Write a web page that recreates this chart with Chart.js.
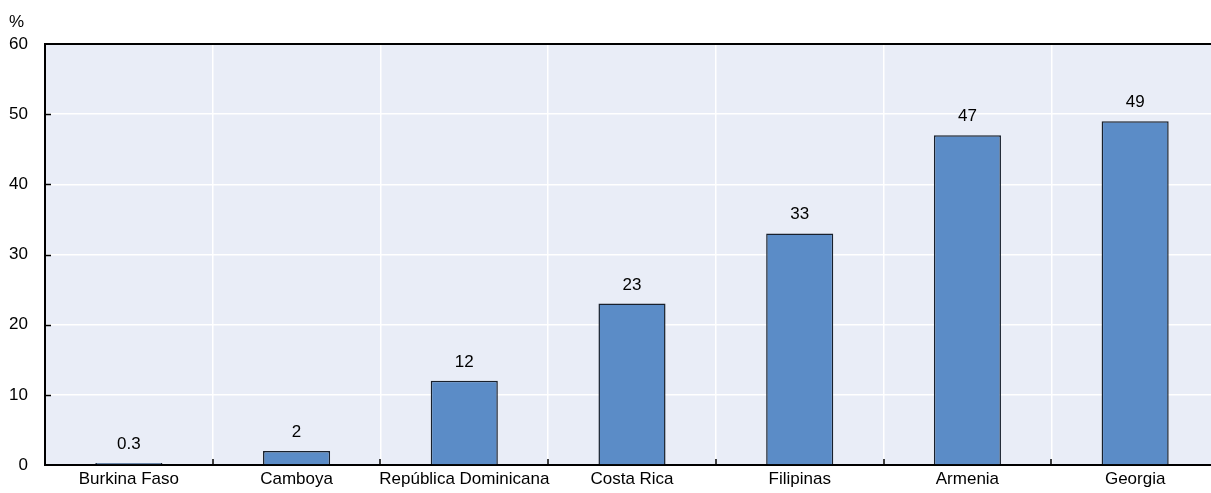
<!DOCTYPE html>
<html>
<head>
<meta charset="utf-8">
<script src="https://cdn.jsdelivr.net/npm/chart.js@4"></script>
<style>
  html, body { margin: 0; padding: 0; background: #fff; overflow: hidden; }
  #wrap { position: relative; width: 1228px; height: 493px; }
</style>
</head>
<body>
<div id="wrap"><canvas id="chart"></canvas></div>
<script>
const countries = ["Burkina Faso", "Camboya", "República Dominicana", "Costa Rica", "Filipinas", "Armenia", "Georgia"];
const shares = [0.3, 2, 12, 23, 33, 47, 49];
const valueLabels = ["0.3", "2", "12", "23", "33", "47", "49"];
const yTicks = [0, 10, 20, 30, 40, 50, 60];

const FONT = "'Liberation Sans Narrow', 'Arial Narrow', 'Liberation Sans', Arial, sans-serif";

// fond du graphique, trait du haut, petites graduations et étiquettes de valeur
const decor = {
  id: "decor",
  beforeDraw(chart) {
    const { ctx, chartArea: a } = chart;
    ctx.save();
    ctx.fillStyle = "#e9edf7";
    ctx.fillRect(a.left, a.top, a.right - a.left, a.bottom - a.top);
    ctx.restore();
  },
  afterDraw(chart) {
    const { ctx, chartArea: a, scales } = chart;
    ctx.save();
    ctx.strokeStyle = "#000";
    ctx.lineWidth = 2;
    ctx.beginPath();
    ctx.moveTo(a.left - 1, a.top);
    ctx.lineTo(a.right, a.top);
    ctx.stroke();

    ctx.lineWidth = 1.5;
    yTicks.slice(1, -1).forEach(v => {
      const y = Math.round(scales.y.getPixelForValue(v)) + 0.5;
      ctx.beginPath();
      ctx.moveTo(a.left, y);
      ctx.lineTo(a.left + 6, y);
      ctx.stroke();
    });
    for (let i = 1; i < countries.length; i++) {
      const x = Math.round((scales.x.getPixelForTick(i - 1) + scales.x.getPixelForTick(i)) / 2);
      ctx.beginPath();
      ctx.moveTo(x, a.bottom);
      ctx.lineTo(x, a.bottom - 6);
      ctx.stroke();
    }

    ctx.fillStyle = "#000";
    ctx.font = "17px " + FONT;
    ctx.textAlign = "center";
    ctx.textBaseline = "alphabetic";
    chart.getDatasetMeta(0).data.forEach((bar, i) => {
      ctx.fillText(valueLabels[i], bar.x, bar.y - 14);
    });

    ctx.textAlign = "left";
    ctx.fillText("%", 9, 27);
    ctx.restore();
  }
};

new Chart(document.getElementById("chart"), {
  type: "bar",
  data: {
    labels: countries,
    datasets: [{
      data: shares,
      backgroundColor: "#5b8cc7",
      borderColor: "#18202c",
      borderWidth: 1.5,
      barPercentage: 0.4,
      categoryPercentage: 1
    }]
  },
  options: {
    responsive: true,
    maintainAspectRatio: false,
    animation: false,
    layout: { padding: { top: 44, left: 0, right: 9, bottom: 0 } },
    plugins: { legend: { display: false }, tooltip: { enabled: false } },
    scales: {
      x: {
        grid: { color: "#ffffff", lineWidth: 1.5, offset: true, drawTicks: false },
        border: { color: "#000", width: 2 },
        ticks: { color: "#000", font: { family: FONT, size: 17 }, padding: 4, maxRotation: 0, autoSkip: false },
        afterFit(scale) { scale.height = 28; }
      },
      y: {
        min: 0,
        max: 60,
        afterBuildTicks(scale) { scale.ticks = yTicks.map(v => ({ value: v })); },
        grid: { color: "#ffffff", lineWidth: 1.5, drawTicks: false },
        border: { color: "#000", width: 2 },
        ticks: { color: "#000", font: { family: FONT, size: 17 }, padding: 17 },
        afterFit(scale) { scale.width = 45; }
      }
    }
  },
  plugins: [decor]
});
</script>
</body>
</html>
